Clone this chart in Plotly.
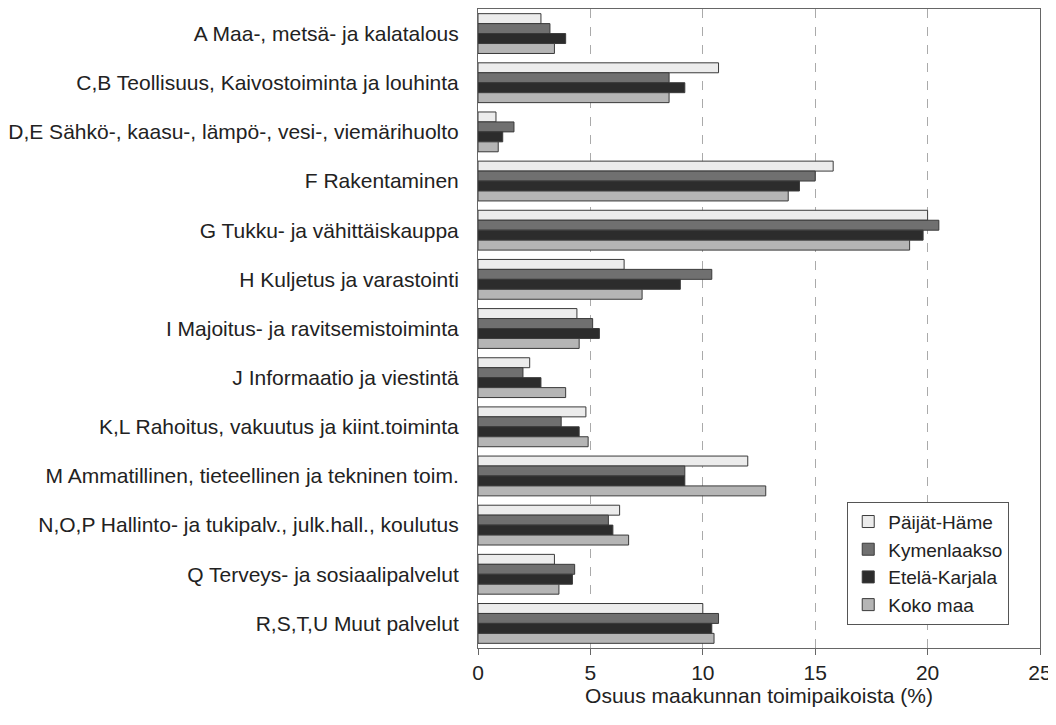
import plotly.graph_objects as go

categories = [
    "A Maa-, metsä- ja kalatalous",
    "C,B Teollisuus, Kaivostoiminta ja louhinta",
    "D,E Sähkö-, kaasu-, lämpö-, vesi-, viemärihuolto",
    "F Rakentaminen",
    "G Tukku- ja vähittäiskauppa",
    "H Kuljetus ja varastointi",
    "I Majoitus- ja ravitsemistoiminta",
    "J Informaatio ja viestintä",
    "K,L Rahoitus, vakuutus ja kiint.toiminta",
    "M Ammatillinen, tieteellinen ja tekninen toim.",
    "N,O,P Hallinto- ja tukipalv., julk.hall., koulutus",
    "Q Terveys- ja sosiaalipalvelut",
    "R,S,T,U Muut palvelut",
]

paijat_hame = [2.8, 10.7, 0.8, 15.8, 20.0, 6.5, 4.4, 2.3, 4.8, 12.0, 6.3, 3.4, 10.0]
kymenlaakso = [3.2, 8.5, 1.6, 15.0, 20.5, 10.4, 5.1, 2.0, 3.7, 9.2, 5.8, 4.3, 10.7]
etela_karjala = [3.9, 9.2, 1.1, 14.3, 19.8, 9.0, 5.4, 2.8, 4.5, 9.2, 6.0, 4.2, 10.4]
koko_maa = [3.4, 8.5, 0.9, 13.8, 19.2, 7.3, 4.5, 3.9, 4.9, 12.8, 6.7, 3.6, 10.5]

series = [
    ("Päijät-Häme", paijat_hame, "#ececec"),
    ("Kymenlaakso", kymenlaakso, "#707070"),
    ("Etelä-Karjala", etela_karjala, "#2c2c2c"),
    ("Koko maa", koko_maa, "#b5b5b5"),
]

font_family = "Liberation Sans, Arial, sans-serif"
FS = 21

fig = go.Figure()
for name, vals, col in series:
    fig.add_trace(go.Bar(
        y=categories, x=vals, name=name, orientation="h",
        marker=dict(color=col, line=dict(color="#3a3a3a", width=1)),
    ))

fig.update_layout(
    width=1048, height=700,
    margin=dict(l=470, r=16, t=1, b=60),
    paper_bgcolor="white", plot_bgcolor="white",
    barmode="group", bargap=0.19, bargroupgap=0,
    font=dict(family=font_family, size=FS, color="#222222"),
    legend=dict(
        x=0.657, y=0.229, xanchor="left", yanchor="top",
        bordercolor="#555555", borderwidth=1, bgcolor="white",
        font=dict(size=19, color="#222222"),
        traceorder="normal", itemwidth=30,
    ),
    showlegend=True,
)

fig.update_xaxes(
    range=[0, 25], tickvals=[0, 5, 10, 15, 20, 25],
    showgrid=True, gridcolor="#aaaaaa", griddash="dash", gridwidth=1,
    showline=True, linecolor="#666666", linewidth=1, mirror=True,
    ticks="outside", ticklen=6, tickcolor="#666666",
    zeroline=False, ticklabeloverflow="allow",
    tickfont=dict(size=FS, color="#222222"),
    title=dict(text="Osuus maakunnan toimipaikoista (%)", font=dict(size=FS, color="#222222"), standoff=0),
)
fig.update_yaxes(
    autorange="reversed", categoryorder="array", categoryarray=categories,
    showline=True, linecolor="#666666", linewidth=1, mirror=True,
    showgrid=False, ticks="", ticklabelstandoff=14,
    tickfont=dict(size=FS, color="#222222"),
)

fig.write_html("out.html")
